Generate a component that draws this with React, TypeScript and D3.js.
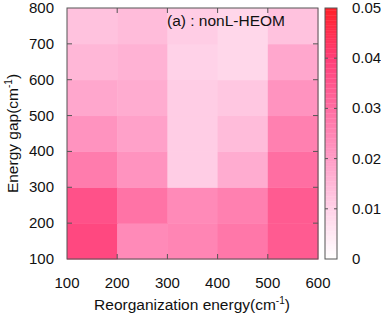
import React, { useEffect, useRef } from "react";
import * as d3 from "d3";

const xEdges = [100, 200, 300, 400, 500, 600];
const yEdges = [100, 200, 300, 400, 500, 600, 700, 800];
const xTicks = [100, 200, 300, 400, 500, 600];
const yTicks = [100, 200, 300, 400, 500, 600, 700, 800];
const cbTicks = [0, 0.01, 0.02, 0.03, 0.04, 0.05];

// rows from y=100-200 (bottom) up to 700-800 (top), columns x=100..600
const rowValues: number[][] = [
  [0.038, 0.024, 0.025, 0.028, 0.034],
  [0.036, 0.029, 0.024, 0.026, 0.034],
  [0.027, 0.022, 0.011, 0.017, 0.030],
  [0.022, 0.019, 0.011, 0.014, 0.026],
  [0.018, 0.017, 0.011, 0.012, 0.022],
  [0.015, 0.016, 0.010, 0.009, 0.018],
  [0.013, 0.014, 0.011, 0.009, 0.013],
];

const paletteStops = [0, 0.01, 0.02, 0.03, 0.04, 0.05];
const paletteColors = ["#ffffff", "#ffd2e8", "#ff9cc6", "#ff6ea2", "#ff3e78", "#ff2028"];

const W = 381;
const H = 319;
const plot = { left: 67, right: 318, top: 8, bottom: 259 };
const cb = { left: 325, right: 337 };
const font = "'Liberation Sans', Arial, sans-serif";
const axisColor = "#555";

const App = () => {
  const svgRef = useRef<SVGSVGElement>(null);

  useEffect(() => {
    const svg = d3.select(svgRef.current);
    svg.selectAll("*").remove();

    const x = d3.scaleLinear().domain([100, 600]).range([plot.left, plot.right]);
    const y = d3.scaleLinear().domain([100, 800]).range([plot.bottom, plot.top]);
    const c = d3.scaleLinear<string>().domain(paletteStops).range(paletteColors).clamp(true);
    const cy = d3.scaleLinear().domain([0, 0.05]).range([plot.bottom, plot.top]);

    // heatmap cells
    const cells: { i: number; j: number; v: number }[] = [];
    rowValues.forEach((row, j) => row.forEach((v, i) => cells.push({ i, j, v })));
    svg
      .append("g")
      .selectAll("rect")
      .data(cells)
      .join("rect")
      .attr("x", (d) => x(xEdges[d.i]))
      .attr("y", (d) => y(yEdges[d.j + 1]))
      .attr("width", (d) => x(xEdges[d.i + 1]) - x(xEdges[d.i]) + 0.5)
      .attr("height", (d) => y(yEdges[d.j]) - y(yEdges[d.j + 1]) + 0.5)
      .attr("fill", (d) => c(d.v));

    // frame
    svg
      .append("rect")
      .attr("x", plot.left)
      .attr("y", plot.top)
      .attr("width", plot.right - plot.left)
      .attr("height", plot.bottom - plot.top)
      .attr("fill", "none")
      .attr("stroke", axisColor)
      .attr("stroke-width", 1);

    const ticks = svg.append("g").attr("stroke", axisColor).attr("stroke-width", 1);
    xTicks.slice(1, -1).forEach((t) => {
      ticks.append("line").attr("x1", x(t)).attr("x2", x(t)).attr("y1", plot.bottom).attr("y2", plot.bottom - 5);
      ticks.append("line").attr("x1", x(t)).attr("x2", x(t)).attr("y1", plot.top).attr("y2", plot.top + 5);
    });
    yTicks.slice(1, -1).forEach((t) => {
      ticks.append("line").attr("x1", plot.left).attr("x2", plot.left + 5).attr("y1", y(t)).attr("y2", y(t));
      ticks.append("line").attr("x1", plot.right).attr("x2", plot.right - 5).attr("y1", y(t)).attr("y2", y(t));
    });

    const txt = svg.append("g").attr("font-family", font).attr("font-size", 15).attr("fill", "#111");
    xTicks.forEach((t) => {
      txt.append("text").attr("x", x(t)).attr("y", 288).attr("text-anchor", "middle").text(t);
    });
    yTicks.forEach((t) => {
      txt.append("text").attr("x", 54).attr("y", y(t) + 5).attr("text-anchor", "end").text(t);
    });

    // axis titles
    const xl = txt.append("text").attr("x", 192).attr("y", 310).attr("text-anchor", "middle").attr("font-size", 15.5);
    xl.append("tspan").text("Reorganization energy(cm");
    xl.append("tspan").attr("dy", -6).attr("font-size", 10).text("-1");
    xl.append("tspan").attr("dy", 6).text(")");

    const yl = txt
      .append("text")
      .attr("transform", `translate(18,${(plot.top + plot.bottom) / 2}) rotate(-90)`)
      .attr("text-anchor", "middle")
      .attr("font-size", 15.5);
    yl.append("tspan").text("Energy gap(cm");
    yl.append("tspan").attr("dy", -6).attr("font-size", 10).text("-1");
    yl.append("tspan").attr("dy", 6).text(")");

    txt.append("text").attr("x", 167).attr("y", 26).attr("font-size", 15.5).text("(a) : nonL-HEOM");

    // colorbar
    const steps = d3.range(0, 0.05, 0.05 / 100);
    svg
      .append("g")
      .selectAll("rect")
      .data(steps)
      .join("rect")
      .attr("x", cb.left)
      .attr("y", (d) => cy(d + 0.05 / 100))
      .attr("width", cb.right - cb.left)
      .attr("height", cy(0) - cy(0.05 / 100) + 0.3)
      .attr("fill", (d) => c(d + 0.025 / 100));
    svg
      .append("rect")
      .attr("x", cb.left)
      .attr("y", cy(0.05))
      .attr("width", cb.right - cb.left)
      .attr("height", cy(0) - cy(0.05))
      .attr("fill", "none")
      .attr("stroke", axisColor);
    cbTicks.slice(1, -1).forEach((t) => {
      ticks.append("line").attr("x1", cb.left).attr("x2", cb.left + 3).attr("y1", cy(t)).attr("y2", cy(t));
      ticks.append("line").attr("x1", cb.right).attr("x2", cb.right - 3).attr("y1", cy(t)).attr("y2", cy(t));
    });
    cbTicks.forEach((t) => {
      txt.append("text").attr("x", 352).attr("y", cy(t) + 5).text(t === 0 ? "0" : t.toFixed(2));
    });
    ticks.raise();
  }, []);

  return (
    <svg
      ref={svgRef}
      width={W}
      height={H}
      style={{ position: "absolute", left: 0, top: 0, background: "#fff" }}
    />
  );
};

export default App;
